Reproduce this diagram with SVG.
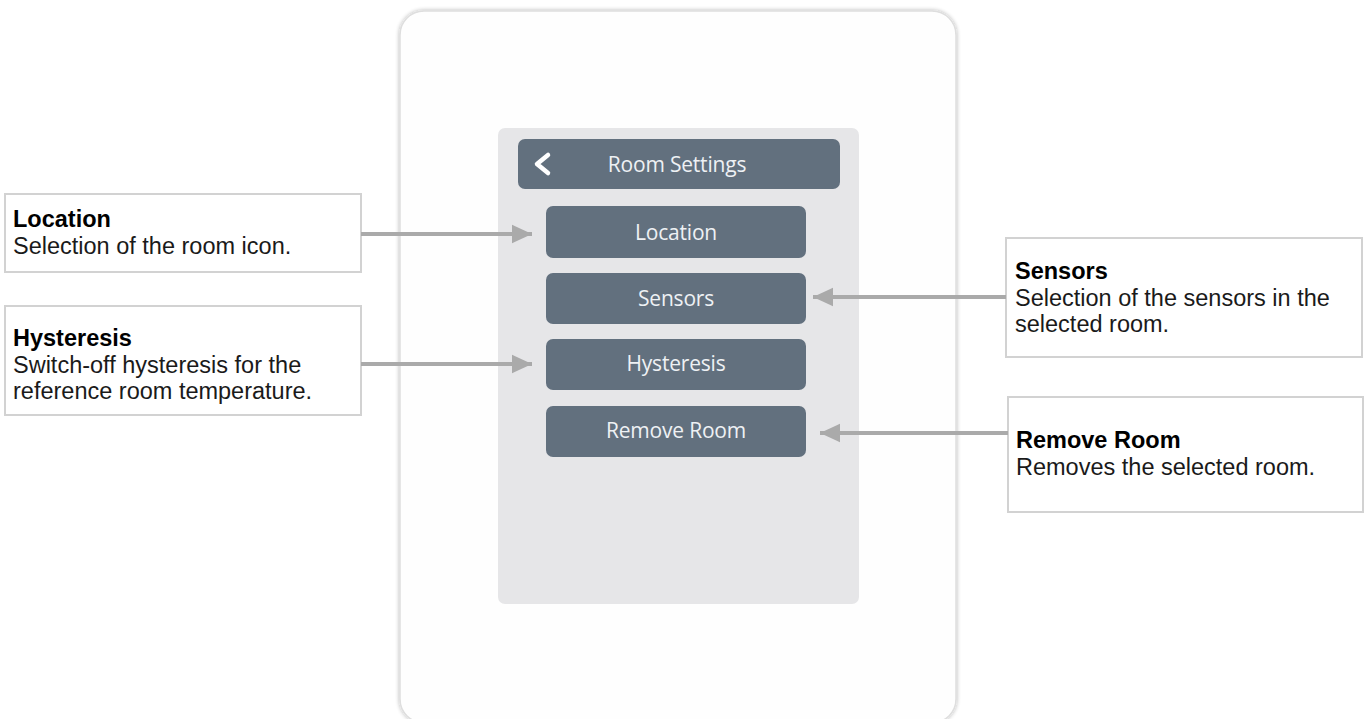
<svg xmlns="http://www.w3.org/2000/svg" width="1368" height="719" viewBox="0 0 1368 719">
<defs>
<style>
.box{fill:#ffffff;stroke:#d2d2d2;stroke-width:2}
.btn{fill:#62707e}
.btxt{font-family:"Open Sans","DejaVu Sans",sans-serif;font-size:21px;fill:#eef1f4;text-anchor:middle;letter-spacing:-0.2px}
.t{font-family:"Liberation Sans",Arial,sans-serif;font-size:23.5px;fill:#1a1a1a}
.tb{font-family:"Liberation Sans",Arial,sans-serif;font-size:23.5px;font-weight:bold;fill:#000}
.conn{stroke:#aaaaaa;stroke-width:4;fill:none}
</style>
<marker id="ah" markerWidth="6" markerHeight="6" refX="5" refY="3" orient="auto" markerUnits="strokeWidth">
<path d="M0,0.7 L5,3 L0,5.3 Z" fill="#aaaaaa"/>
</marker>
<filter id="sh" x="-5%" y="-5%" width="110%" height="110%">
<feGaussianBlur in="SourceAlpha" stdDeviation="2"/>
<feComponentTransfer><feFuncA type="linear" slope="0.3"/></feComponentTransfer>
<feMerge><feMergeNode/><feMergeNode in="SourceGraphic"/></feMerge>
</filter>
</defs>
<rect width="1368" height="719" fill="#ffffff"/>
<g id="device">
<rect x="400" y="11" width="556" height="712" rx="24" fill="#fefefe" stroke="#dedede" stroke-width="1.5" filter="url(#sh)"/>
<rect x="498" y="128" width="361" height="476" rx="7" fill="#e6e6e8"/>
</g>
<g id="header">
<rect class="btn" x="518" y="139" width="322" height="50" rx="7"/>
<path d="M548,155 L537,164 L548,173" stroke="#ffffff" stroke-width="4.5" fill="none" stroke-linecap="round" stroke-linejoin="round"/>
<text class="btxt" x="677" y="172">Room Settings</text>
</g>
<g id="btn-location">
<rect class="btn" x="546" y="206" width="260" height="52" rx="7"/>
<text class="btxt" x="676" y="240">Location</text>
</g>
<g id="btn-sensors">
<rect class="btn" x="546" y="273" width="260" height="51" rx="7"/>
<text class="btxt" x="676" y="306">Sensors</text>
</g>
<g id="btn-hysteresis">
<rect class="btn" x="546" y="339" width="260" height="51" rx="7"/>
<text class="btxt" x="676" y="371">Hysteresis</text>
</g>
<g id="btn-remove">
<rect class="btn" x="546" y="406" width="260" height="51" rx="7"/>
<text class="btxt" x="676" y="438">Remove Room</text>
</g>
<g id="note-location">
<rect class="box" x="5" y="194" width="356" height="78"/>
<text class="tb" x="13" y="227">Location</text>
<text class="t" x="13" y="254">Selection of the room icon.</text>
</g>
<g id="note-hysteresis">
<rect class="box" x="5" y="306" width="356" height="109"/>
<text class="tb" x="13" y="346">Hysteresis</text>
<text class="t" x="13" y="372.5">Switch-off hysteresis for the</text>
<text class="t" x="13" y="399">reference room temperature.</text>
</g>
<g id="note-sensors">
<rect class="box" x="1006" y="238" width="356" height="119"/>
<text class="tb" x="1015" y="279">Sensors</text>
<text class="t" x="1015" y="306">Selection of the sensors in the</text>
<text class="t" x="1015" y="332">selected room.</text>
</g>
<g id="note-remove">
<rect class="box" x="1008" y="397" width="355" height="115"/>
<text class="tb" x="1016" y="448">Remove Room</text>
<text class="t" x="1016" y="475">Removes the selected room.</text>
</g>
<g id="connectors">
<line class="conn" x1="361" y1="234" x2="532" y2="234" marker-end="url(#ah)"/>
<line class="conn" x1="361" y1="364" x2="532" y2="364" marker-end="url(#ah)"/>
<line class="conn" x1="1006" y1="297" x2="813" y2="297" marker-end="url(#ah)"/>
<line class="conn" x1="1008" y1="433" x2="820" y2="433" marker-end="url(#ah)"/>
</g>
</svg>
